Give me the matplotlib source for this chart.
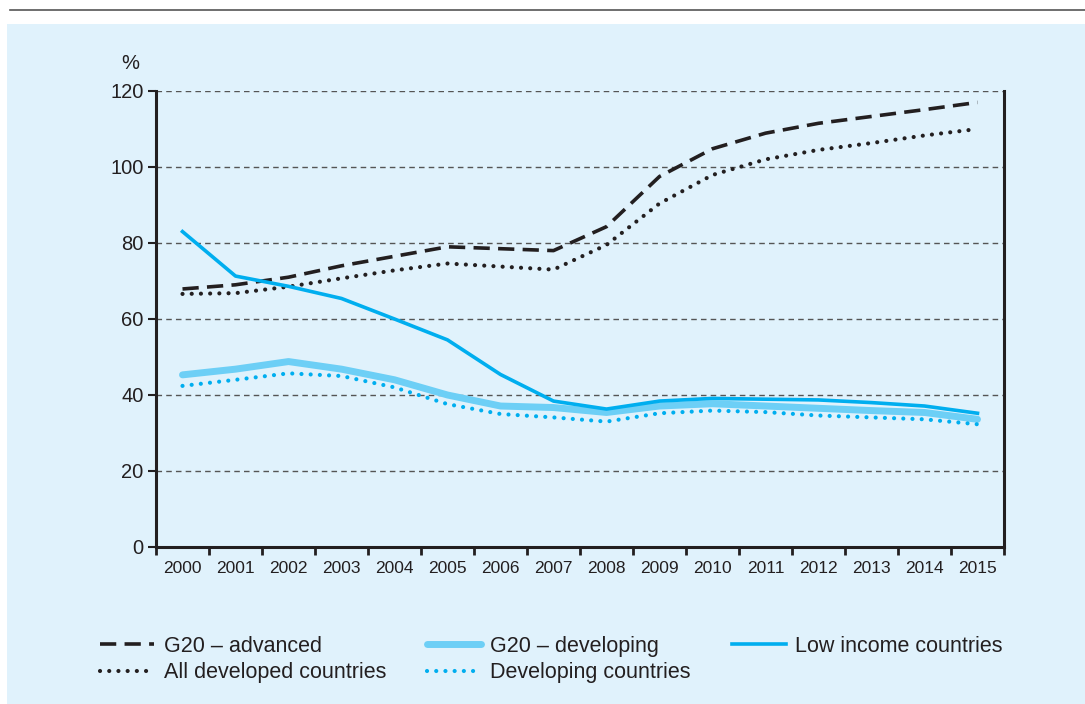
import numpy as np
import matplotlib.pyplot as plt
from matplotlib.patches import Rectangle
from matplotlib.lines import Line2D

plt.rcParams['font.family'] = ['Liberation Sans', 'DejaVu Sans']

years = list(range(2000, 2016))
g20_advanced = [67.9, 69.0, 71.0, 74.0, 76.5, 79.0, 78.5, 78.0, 84.3, 97.5, 104.8, 108.9, 111.5, 113.3, 115.1, 117.0]
all_developed = [66.6, 66.8, 68.5, 70.7, 72.8, 74.6, 73.8, 73.0, 79.5, 90.4, 97.9, 102.0, 104.5, 106.3, 108.3, 110.0]
g20_developing = [45.3, 46.8, 48.8, 46.8, 44.0, 40.0, 37.1, 36.7, 35.4, 37.1, 37.7, 37.1, 36.5, 35.9, 35.4, 33.6]
developing = [42.4, 44.0, 45.7, 45.0, 42.0, 37.6, 35.0, 34.1, 33.0, 35.2, 35.9, 35.5, 34.6, 34.1, 33.6, 32.3]
low_income = [83.0, 71.3, 68.6, 65.4, 60.0, 54.5, 45.4, 38.4, 36.3, 38.4, 39.1, 38.9, 38.7, 38.0, 37.1, 35.2]

bg = '#e0f2fc'
dark = '#231f20'
cyan = '#00aeef'
light_cyan = '#6dcff6'

fig = plt.figure(figsize=(10.85, 7.04), dpi=100)
fig.patch.set_facecolor('white')

# panel background and top rule
fig.patches.append(Rectangle((7 / 1085, 0), 1.0, (704 - 24) / 704, transform=fig.transFigure,
                             facecolor=bg, edgecolor='none', zorder=-5))
fig.add_artist(Line2D([10 / 1085, 1.0], [1 - 10 / 704, 1 - 10 / 704], transform=fig.transFigure,
                      color='#555555', lw=1.2, zorder=-5))

ax = fig.add_axes([156 / 1085, (704 - 547) / 704, 848 / 1085, 456 / 704])
ax.set_facecolor(bg)

l1, = ax.plot(years, g20_advanced, color=dark, lw=2.6, dashes=(4.5, 2.3), label='G20 – advanced', zorder=4)
l2, = ax.plot(years, all_developed, color=dark, lw=3.0, dashes=(0.01, 2.2), dash_capstyle='round',
              label='All developed countries', zorder=4)
l3, = ax.plot(years, g20_developing, color=light_cyan, lw=5, solid_capstyle='round',
              label='G20 – developing', zorder=3)
l4, = ax.plot(years, developing, color=cyan, lw=3.0, dashes=(0.01, 2.2), dash_capstyle='round',
              label='Developing countries', zorder=4)
l5, = ax.plot(years, low_income, color=cyan, lw=2.6, label='Low income countries', zorder=5)

ax.set_xlim(1999.5, 2015.5)
ax.set_ylim(0, 120)
ax.set_yticks(range(0, 121, 20))
ax.set_xticks(np.arange(1999.5, 2016, 1.0))
ax.set_xticklabels([])
ax.set_xticks(years, minor=True)
ax.set_xticklabels([str(y) for y in years], minor=True, fontsize=12.5, color=dark,
                   family=['Liberation Sans Narrow', 'Liberation Sans'])
ax.tick_params(axis='x', which='major', direction='out', length=6, width=2, color=dark)
ax.tick_params(axis='x', which='minor', length=0, pad=10)
ax.tick_params(axis='y', direction='out', length=6, width=1.5, color=dark, labelsize=14.5,
               labelcolor=dark, pad=3)

for y in range(20, 121, 20):
    ax.axhline(y, color='#555555', lw=1, dashes=(4, 3), zorder=1)

for side in ['left', 'bottom', 'right']:
    ax.spines[side].set_color(dark)
    ax.spines[side].set_linewidth(2.2)
ax.spines['top'].set_visible(False)

ax.text(-0.03, 1.04, '%', transform=ax.transAxes, fontsize=14.5, color=dark, ha='center', va='bottom')

fig.legend(handles=[l1, l2, l3, l4, l5],
           labels=['G20 – advanced', 'All developed countries', 'G20 – developing',
                   'Developing countries', 'Low income countries'],
           loc='upper left', bbox_to_anchor=(100 / 1085, 1 - 636 / 704), ncol=3, frameon=False,
           fontsize=15.5, handlelength=2.5, columnspacing=1.9, labelspacing=0.25,
           handletextpad=0.45, borderpad=0, borderaxespad=0, labelcolor=dark)

fig.savefig('out.png', dpi=100, facecolor=fig.get_facecolor())
